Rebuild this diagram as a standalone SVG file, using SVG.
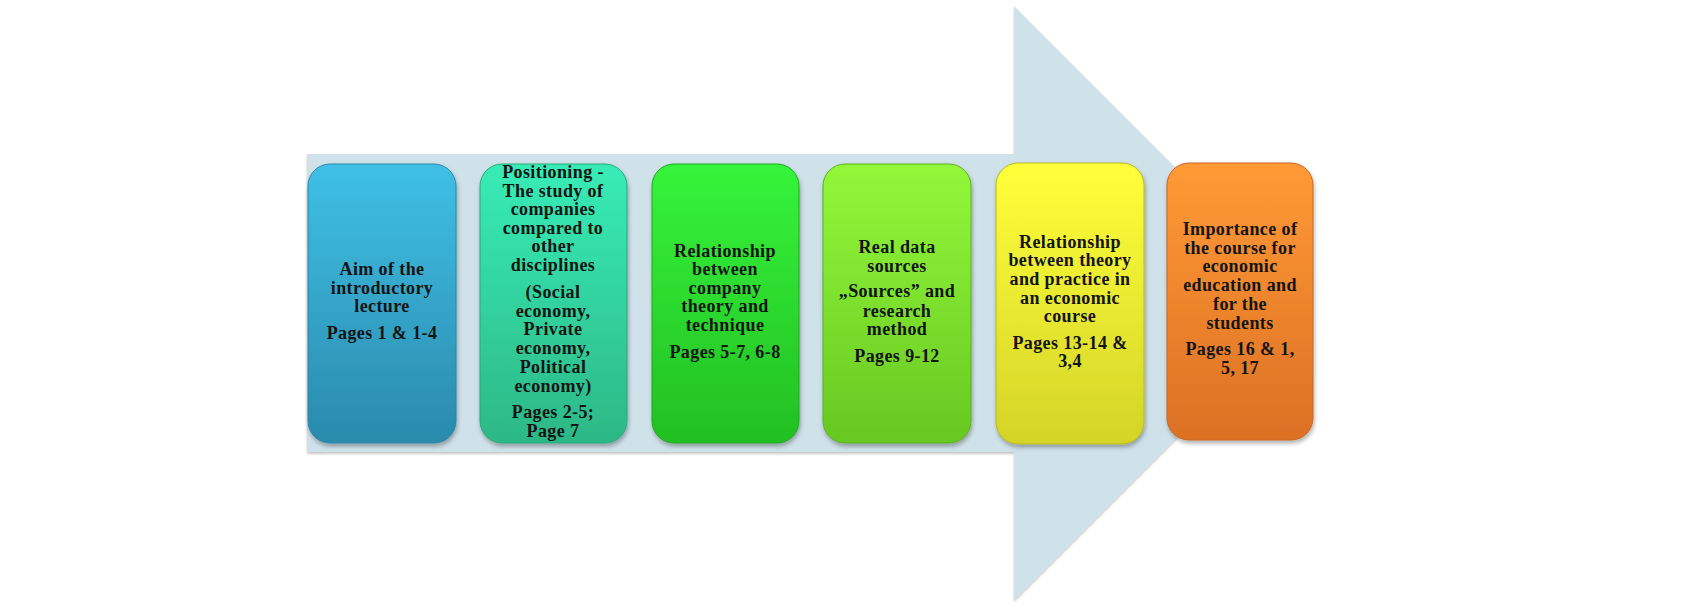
<svg xmlns="http://www.w3.org/2000/svg" width="1683" height="605" viewBox="0 0 1683 605">
<style>
  .lbl { font-family: "Liberation Serif", "Times New Roman", serif; font-weight: bold; font-size: 18px; letter-spacing: 0.4px; fill: #141414; text-anchor: middle; }
  .box { filter: url(#sh); }
</style>
<defs>
  <filter id="sh" x="-10%" y="-10%" width="130%" height="130%">
    <feDropShadow dx="1" dy="3" stdDeviation="2" flood-color="#000" flood-opacity="0.3"/>
  </filter>
  <filter id="ash" x="-5%" y="-5%" width="110%" height="110%">
    <feDropShadow dx="0" dy="2" stdDeviation="1.2" flood-color="#000" flood-opacity="0.22"/>
  </filter>
  <linearGradient id="g1" x1="0" y1="0" x2="0" y2="1"><stop offset="0" stop-color="#3fc0e6"/><stop offset="1" stop-color="#2a8aac"/></linearGradient>
  <linearGradient id="g2" x1="0" y1="0" x2="0" y2="1"><stop offset="0" stop-color="#38ecb6"/><stop offset="1" stop-color="#2cb886"/></linearGradient>
  <linearGradient id="g3" x1="0" y1="0" x2="0" y2="1"><stop offset="0" stop-color="#36f43a"/><stop offset="1" stop-color="#22bf22"/></linearGradient>
  <linearGradient id="g4" x1="0" y1="0" x2="0" y2="1"><stop offset="0" stop-color="#93f83a"/><stop offset="1" stop-color="#67c822"/></linearGradient>
  <linearGradient id="g5" x1="0" y1="0" x2="0" y2="1"><stop offset="0" stop-color="#ffff3a"/><stop offset="1" stop-color="#d4d428"/></linearGradient>
  <linearGradient id="g6" x1="0" y1="0" x2="0" y2="1"><stop offset="0" stop-color="#ff9a35"/><stop offset="1" stop-color="#dc7024"/></linearGradient>
</defs>
<rect width="1683" height="605" fill="#ffffff"/>
<g id="connectors">
  <polygon id="background-arrow" points="307,154 1014,154 1014,6 1311,303 1014,600 1014,452 307,452" fill="#cfe1e9" filter="url(#ash)"/>
</g>
<g id="node1">
  <rect class="box" x="308" y="164" width="148" height="279" rx="22" fill="url(#g1)" stroke="#2a88a8" stroke-width="1"/>
  <text class="lbl" x="382" y="275">Aim of the</text>
  <text class="lbl" x="382" y="294">introductory</text>
  <text class="lbl" x="382" y="312">lecture</text>
  <text class="lbl" x="382" y="339">Pages 1 &amp; 1-4</text>
</g>
<g id="node2">
  <rect class="box" x="480" y="164" width="147" height="279" rx="22" fill="url(#g2)" stroke="#2aa87a" stroke-width="1"/>
  <text class="lbl" x="553" y="178">Positioning -</text>
  <text class="lbl" x="553" y="197">The study of</text>
  <text class="lbl" x="553" y="215">companies</text>
  <text class="lbl" x="553" y="234">compared to</text>
  <text class="lbl" x="553" y="252">other</text>
  <text class="lbl" x="553" y="271">disciplines</text>
  <text class="lbl" x="553" y="298">(Social</text>
  <text class="lbl" x="553" y="317">economy,</text>
  <text class="lbl" x="553" y="335">Private</text>
  <text class="lbl" x="553" y="354">economy,</text>
  <text class="lbl" x="553" y="373">Political</text>
  <text class="lbl" x="553" y="392">economy)</text>
  <text class="lbl" x="553" y="418">Pages 2-5;</text>
  <text class="lbl" x="553" y="437">Page 7</text>
</g>
<g id="node3">
  <rect class="box" x="652" y="164" width="147" height="279" rx="22" fill="url(#g3)" stroke="#20a820" stroke-width="1"/>
  <text class="lbl" x="725" y="257">Relationship</text>
  <text class="lbl" x="725" y="275">between</text>
  <text class="lbl" x="725" y="294">company</text>
  <text class="lbl" x="725" y="312">theory and</text>
  <text class="lbl" x="725" y="331">technique</text>
  <text class="lbl" x="725" y="358">Pages 5-7, 6-8</text>
</g>
<g id="node4">
  <rect class="box" x="823" y="164" width="148" height="279" rx="22" fill="url(#g4)" stroke="#5cb020" stroke-width="1"/>
  <text class="lbl" x="897" y="253">Real data</text>
  <text class="lbl" x="897" y="272">sources</text>
  <text class="lbl" x="897" y="297">„Sources” and</text>
  <text class="lbl" x="897" y="317">research</text>
  <text class="lbl" x="897" y="335">method</text>
  <text class="lbl" x="897" y="362">Pages 9-12</text>
</g>
<g id="node5">
  <rect class="box" x="996" y="163" width="148" height="281" rx="22" fill="url(#g5)" stroke="#b8b820" stroke-width="1"/>
  <text class="lbl" x="1070" y="248">Relationship</text>
  <text class="lbl" x="1070" y="266">between theory</text>
  <text class="lbl" x="1070" y="285">and practice in</text>
  <text class="lbl" x="1070" y="304">an economic</text>
  <text class="lbl" x="1070" y="322">course</text>
  <text class="lbl" x="1070" y="349">Pages 13-14 &amp;</text>
  <text class="lbl" x="1070" y="367">3,4</text>
</g>
<g id="node6">
  <rect class="box" x="1167" y="163" width="146" height="277" rx="22" fill="url(#g6)" stroke="#c8641e" stroke-width="1"/>
  <text class="lbl" x="1240" y="235">Importance of</text>
  <text class="lbl" x="1240" y="254">the course for</text>
  <text class="lbl" x="1240" y="272">economic</text>
  <text class="lbl" x="1240" y="291">education and</text>
  <text class="lbl" x="1240" y="310">for the</text>
  <text class="lbl" x="1240" y="329">students</text>
  <text class="lbl" x="1240" y="355">Pages 16 &amp; 1,</text>
  <text class="lbl" x="1240" y="374">5, 17</text>
</g>
</svg>
